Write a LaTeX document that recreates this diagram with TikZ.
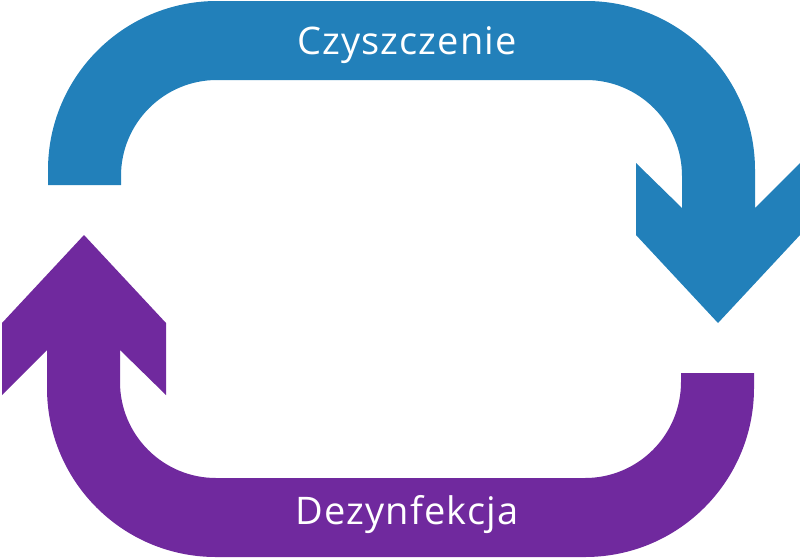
\documentclass[tikz,border=0pt]{standalone}
\usepackage{fontspec}
\setmainfont{Open Sans}[LetterSpace=3]
\usepackage{tikz}
\usepackage{xcolor}
\definecolor{cleanblue}{RGB}{34,128,186}
\definecolor{disinfpurple}{RGB}{112,41,158}
\newcommand{\halfloop}{(48,185) -- (48,170) arc[start angle=180, end angle=270, radius=169]
  -- (586,1) arc[start angle=270, end angle=360, radius=169]
  -- (755,208) -- (800,163) -- (800,235) -- (718,323) -- (636,235) -- (636,163) -- (682,208)
  -- (682,176) arc[start angle=0, end angle=-90, radius=96]
  -- (217,80) arc[start angle=270, end angle=180, radius=96] -- (121,185) -- cycle}

\begin{document}
\begin{tikzpicture}[x=1pt, y=-1pt, label/.style={text=white, font=\fontsize{38}{42}\selectfont, anchor=base}]
    \useasboundingbox (0,0) rectangle (800,558);
    \fill[cleanblue] \halfloop;
    \fill[disinfpurple, rotate around={180:(401,279)}] \halfloop;
    \node[label] (clean) at (407,54) {Czyszczenie};
    \node[label] (disinf) at (407,524) {Dezynfekcja};
  \end{tikzpicture}
\end{document}
